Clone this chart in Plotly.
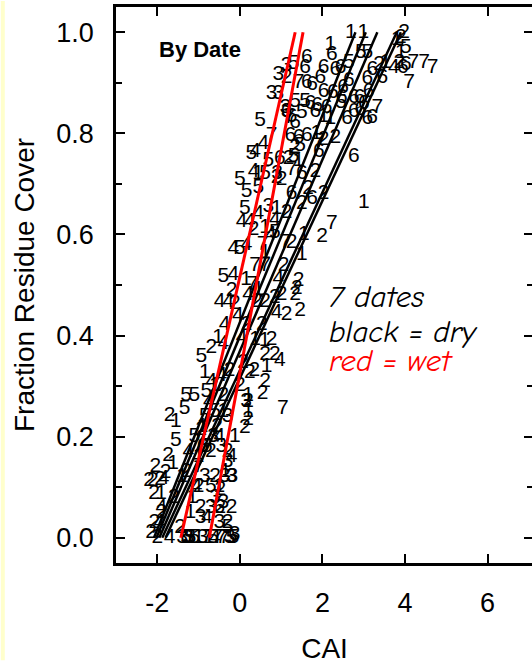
import plotly.graph_objects as go

# CAI (x) and fraction residue cover (y) for each of the seven sampling dates
D1_CAI = [2.69, 2.99, 3.80, 2.19, 3.53, 3.90, 2.03, 2.19, 1.85, 1.42, 0.44, 0.89, 3.00, 0.61,
          1.55, 0.61, 1.50, 0.15, -0.53, 0.37, 0.65, 0.60, -0.85, 0.20, 0.20, -1.55, -0.40,
          -0.12, -1.62, -1.91, -0.75, -1.00, -0.50, -1.20, 0.45,
          -1.00, -1.40, -0.90, -0.60, -1.15, -0.35]
D1_COV = [1.00, 1.00, 0.985, 0.975, 0.94, 0.96, 0.833, 0.829, 0.80, 0.746, 0.721, 0.65, 0.663,
          0.613, 0.60, 0.563, 0.559, 0.51, 0.396, 0.392, 0.338, 0.39, 0.326, 0.28, 0.25, 0.23,
          0.25, 0.20, 0.146, 0.088, 0.0, 0.16, 0.10, 0.05, 0.49,
          0.0, 0.12, 0.22, 0.30, 0.08, 0.13]

D2_CAI = [3.98, 3.90, 3.37, 3.86, 1.13, 2.03, 2.31, 1.34, 1.18, 0.89, 1.01, 1.83, 2.03, 1.13,
          0.33, 1.99, 1.25, 1.06, 1.42, 1.38, -0.20, -0.12, 0.41, 0.61, 0.85, 1.01, 1.34, 1.46,
          1.13, 0.16, 0.53, -0.69, 0.77, 0.61, 0.85, 0.08, 0.24, 0.61, 0.20, 0.12, -1.70, -0.93,
          -1.74, -2.11, -2.08, -2.07, -2.00, -2.15, 0.20, 0.35, -0.30, -0.60, -0.20, -0.30,
          -1.00, 1.65, 1.50, 0.55, -2.20, -1.93, -1.80, -0.47, -0.47,
          -1.90, -1.60, -1.30, -0.95, -0.70, -0.55, -1.45, -0.40, 0.00, -0.25, -2.05]
D2_COV = [1.00, 0.99, 0.935, 0.94, 0.91, 0.788, 0.792, 0.771, 0.75, 0.713, 0.709, 0.725, 0.68,
          0.642, 0.609, 0.596, 0.584, 0.538, 0.509, 0.492, 0.488, 0.463, 0.467, 0.467, 0.475,
          0.48, 0.48, 0.45, 0.442, 0.421, 0.421, 0.376, 0.392, 0.363, 0.363, 0.347, 0.326, 0.309,
          0.234, 0.217, 0.242, 0.213, 0.163, 0.113, 0.088, 0.03, 0.0, 0.01, 0.27, 0.33, 0.17,
          0.12, 0.06, 0.03, 0.10, 0.69, 0.66, 0.285, 0.113, 0.115, 0.128, 0.095, 0.06,
          0.05, 0.08, 0.13, 0.06, 0.17, 0.22, 0.02, 0.28, 0.30, 0.33, 0.14]

D3_CAI = [1.13, 0.93, 0.77, 0.93, 1.13, 0.69, -0.20, -0.37, -0.18, -0.40, -0.50, -1.20, -1.25,
          -0.60, -0.30, -0.25, 0.15, -0.45, 1.10, 0.90, -0.13, -0.90, -0.70,
          -1.40, -0.85, -0.65, -0.30, -0.95]
D3_COV = [0.933, 0.915, 0.879, 0.878, 0.842, 0.655, 0.121, 0.121, 0.12, 0.07, 0.03, 0.0, 0.0,
          0.08, 0.15, 0.0, 0.27, 0.18, 0.85, 0.72, 0.005, 0.0, 0.06,
          0.0, 0.12, 0.20, 0.24, 0.04]

D4_CAI = [0.57, 0.37, 0.33, 0.85, 0.04, 0.24, -0.16, 0.16, -0.16, 0.93, -0.49, -0.28, 0.20,
          0.89, -0.37, -0.40, 0.04, 0.97, -0.69, 3.73, 0.75, 0.45, -0.20, -0.80, -0.50, -1.85,
          -1.95, -0.60, -0.05,
          -1.70, -1.25, -0.75, -0.45, -1.05, -1.90]
D4_COV = [0.779, 0.763, 0.725, 0.63, 0.625, 0.625, 0.571, 0.579, 0.521, 0.513, 0.467, 0.467,
          0.48, 0.446, 0.421, 0.384, 0.396, 0.351, 0.309, 0.93, 0.60, 0.64, 0.16, 0.04, 0.20,
          0.117, 0.03, 0.0, 0.44,
          0.0, 0.17, 0.27, 0.32, 0.10, 0.06]

D5_CAI = [2.64, 2.93, 3.09, 4.02, 1.30, 1.34, 1.58, 0.49, 1.46, 0.28, 0.69, 1.30, 0.61, 0.00,
          0.16, 0.45, 0.12, 0.85, 0.00, -0.40, -0.93, -1.30, -1.10, -0.81, -1.34, -1.55, -1.30,
          -0.20, -1.10, -0.30, -0.80, -0.60, 1.50, 2.45,
          -1.20, -0.65, -0.15, -1.10, -0.70, -0.85]
D5_COV = [0.94, 0.96, 0.96, 0.97, 0.937, 0.863, 0.863, 0.825, 0.775, 0.759, 0.746, 0.754,
          0.721, 0.709, 0.684, 0.692, 0.65, 0.604, 0.571, 0.517, 0.359, 0.28, 0.28, 0.288,
          0.255, 0.192, 0.0, 0.0, 0.0, 0.02, 0.18, 0.25, 0.84, 0.86,
          0.0, 0.0, 0.0, 0.20, 0.10, 0.24]

D6_CAI = [2.23, 1.62, 1.58, 2.03, 2.31, 2.44, 3.21, 4.02, 3.45, 1.62, 1.75, 2.03, 2.64, 3.09,
          3.12, 1.71, 1.87, 2.47, 2.76, 2.90, 3.00, 1.13, 1.25, 1.34, 1.83, 2.60, 2.76, 2.92,
          3.09, 3.20, 1.22, 1.42, 1.62, 1.91, 0.97, 2.76, 1.25, 1.75, 1.50, 2.10, 2.50, 1.95,
          2.25, 3.95,
          -1.30, -0.90, -0.50]
D6_COV = [0.955, 0.95, 0.93, 0.93, 0.925, 0.93, 0.925, 0.935, 0.91, 0.90, 0.896, 0.883, 0.904,
          0.908, 0.883, 0.858, 0.854, 0.871, 0.871, 0.87, 0.858, 0.842, 0.833, 0.821, 0.842,
          0.829, 0.842, 0.846, 0.829, 0.83, 0.796, 0.792, 0.796, 0.763, 0.75, 0.754, 0.68,
          0.671, 0.72, 0.85, 0.89, 0.91, 0.88, 0.93,
          0.0, 0.18, 0.06]

D7_CAI = [4.46, 4.67, 4.10, 4.20, 1.42, 3.33, 0.77, 1.91, 1.25, 2.23, 1.10, 0.37, 0.61, 1.04,
          0.30, -0.37, -0.55, 1.20, 0.55,
          -0.80, -0.45, -1.00]
D7_COV = [0.94, 0.93, 0.90, 0.94, 0.90, 0.85, 0.796, 0.784, 0.729, 0.621, 0.584, 0.538, 0.538,
          0.256, 0.50, 0.0, 0.0, 0.83, 0.58,
          0.0, 0.0, 0.14]

DATES = ["1", "2", "3", "4", "5", "6", "7"]
CAI_BY_DATE = [D1_CAI, D2_CAI, D3_CAI, D4_CAI, D5_CAI, D6_CAI, D7_CAI]
COV_BY_DATE = [D1_COV, D2_COV, D3_COV, D4_COV, D5_COV, D6_COV, D7_COV]

# Fitted lines: CAI where each fit reaches cover 0 and cover 1
DRY_CAI_AT_0 = [-2.08, -2.02, -1.95, -1.88, -1.80]
DRY_CAI_AT_1 = [2.80, 3.05, 3.33, 3.80, 3.90]
WET_CAI_AT_0 = [-1.43, -0.74]
WET_CAI_AT_1 = [1.34, 1.53]

X_TICKS = [-2, 0, 2, 4, 6]
Y_TICKS = [0.0, 0.2, 0.4, 0.6, 0.8, 1.0]

SANS = "Liberation Sans, Arial, sans-serif"
HAND = "Comic Sans MS, Comic Neue, Noto Sans, sans-serif"

fig = go.Figure()

for label, xs, ys in zip(DATES, CAI_BY_DATE, COV_BY_DATE):
    fig.add_trace(go.Scatter(
        x=xs, y=ys, mode="text", text=[label] * len(xs),
        textposition="middle center",
        textfont=dict(family=SANS, size=21, color="black"),
        showlegend=False, hoverinfo="skip", cliponaxis=False,
    ))

for x0, x1 in zip(DRY_CAI_AT_0, DRY_CAI_AT_1):
    fig.add_trace(go.Scatter(x=[x0, x1], y=[0, 1], mode="lines",
                             line=dict(color="black", width=2.5),
                             showlegend=False, hoverinfo="skip"))
for x0, x1 in zip(WET_CAI_AT_0, WET_CAI_AT_1):
    fig.add_trace(go.Scatter(x=[x0, x1], y=[0, 1], mode="lines",
                             line=dict(color="red", width=3),
                             showlegend=False, hoverinfo="skip"))

W, H = 540, 664
ML, MR, MT, MB = 116, 4, 6, 98
PW, PH = W - ML - MR, H - MT - MB

axis_font = dict(family=SANS, size=27, color="black")
title_font = dict(family=SANS, size=28, color="black")
note_font = dict(family=HAND, size=31, color="black")

fig.update_layout(
    width=W, height=H,
    margin=dict(l=ML, r=MR, t=MT, b=MB, pad=0),
    paper_bgcolor="white", plot_bgcolor="white",
    font=dict(family=SANS, color="black"),
    xaxis=dict(
        range=[-3.0, 7.1], tickvals=X_TICKS, ticktext=[str(v) for v in X_TICKS],
        showline=True, linecolor="black", linewidth=2.5, mirror="ticks",
        ticks="inside", ticklen=9, tickwidth=2, tickcolor="black",
        showgrid=False, zeroline=False, tickfont=axis_font, ticklabelstandoff=14,
        title=dict(text="CAI", font=title_font, standoff=22),
    ),
    yaxis=dict(
        range=[-0.05, 1.05], tickvals=Y_TICKS, ticktext=[f"{v:.1f}" for v in Y_TICKS],
        showline=True, linecolor="black", linewidth=2.5, mirror="ticks",
        ticks="inside", ticklen=9, tickwidth=2, tickcolor="black",
        minor=dict(tickvals=[0.1, 0.3, 0.5, 0.7, 0.9], ticks="inside", ticklen=6,
                   tickwidth=2, tickcolor="black"),
        showgrid=False, zeroline=False, tickfont=axis_font, ticklabelstandoff=14,
        title=dict(text="Fraction Residue Cover", font=title_font, standoff=14),
    ),
    shapes=[dict(type="rect", xref="paper", yref="paper",
                 x0=-ML / PW, x1=(4 - ML) / PW, y0=-MB / PH, y1=1 + MT / PH,
                 fillcolor="#FFFFCC", line=dict(width=0), layer="below")],
    annotations=[
        dict(x=-0.97, y=0.965, xref="x", yref="y", text="<b>By Date</b>", showarrow=False,
             font=dict(family=SANS, size=22, color="black")),
        dict(x=2.1, y=0.477, xref="x", yref="y", xanchor="left", text="<i>7 dates</i>",
             showarrow=False, font=note_font),
        dict(x=2.1, y=0.408, xref="x", yref="y", xanchor="left", text="<i>black = dry</i>",
             showarrow=False, font=note_font),
        dict(x=2.1, y=0.350, xref="x", yref="y", xanchor="left", text="<i>red = wet</i>",
             showarrow=False, font=dict(family=HAND, size=31, color="red")),
    ],
)

fig.write_html("out.html", post_script="document.body.style.overflow='hidden';"
               "document.documentElement.style.overflow='hidden';")
